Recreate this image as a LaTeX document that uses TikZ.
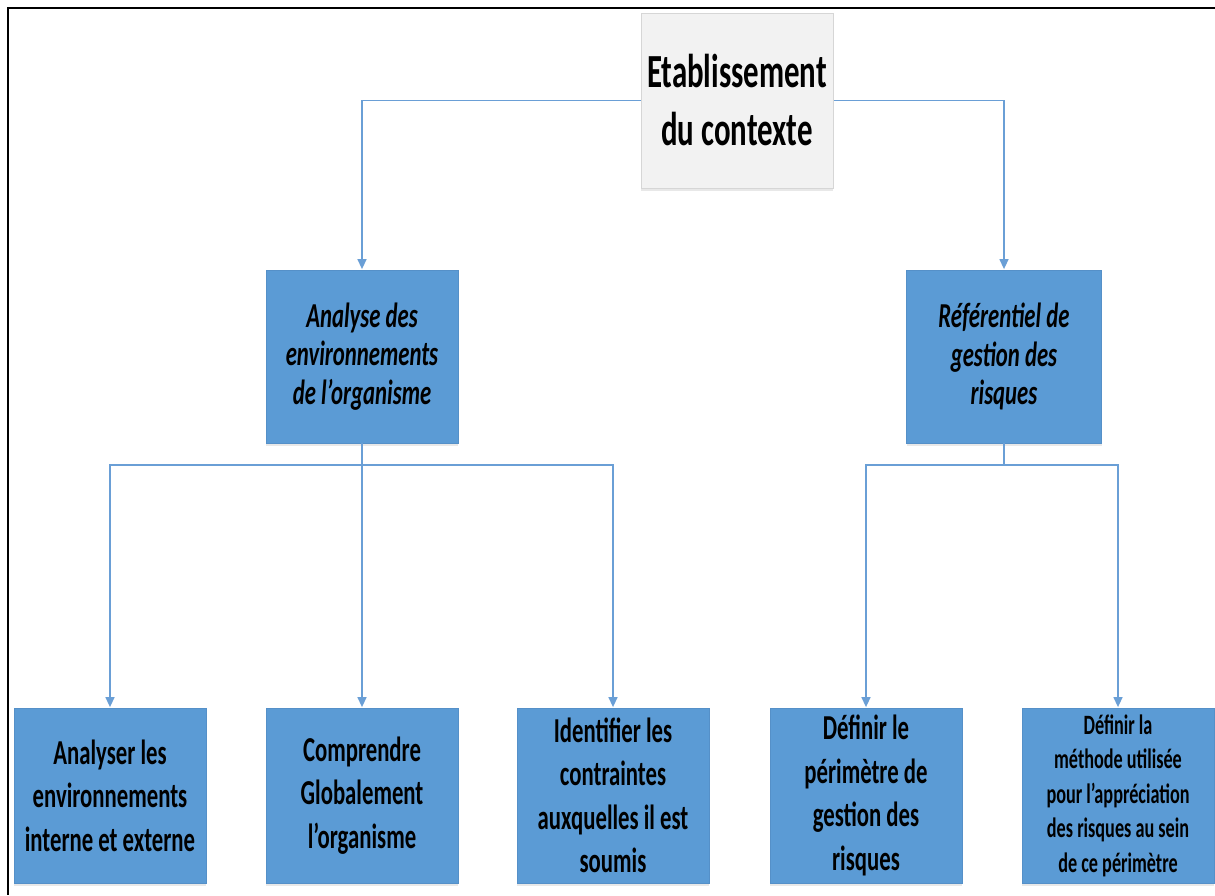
\documentclass[tikz,border=0pt]{standalone}
\usepackage{fontspec}
\setmainfont{Carlito}[FakeStretch=0.65]
\usetikzlibrary{arrows.meta,shadows}
\definecolor{boxblue}{HTML}{5B9BD5}
\definecolor{boxedge}{HTML}{5590C8}
\definecolor{linkblue}{HTML}{6A9FD6}
\definecolor{topfill}{HTML}{F2F2F2}
\definecolor{topedge}{HTML}{D6D6D6}
\tikzset{
  box/.style={rectangle, inner sep=0pt, align=center, text=black,
    drop shadow={opacity=0.18, shadow xshift=0pt, shadow yshift=-3pt}},
  rootbox/.style={box, fill=topfill, draw=topedge, line width=0.8pt,
    minimum width=192pt, minimum height=175pt,
    font=\fontsize{47.5}{58}\selectfont\bfseries},
  midbox/.style={box, fill=boxblue, draw=boxedge, line width=0.8pt,
    minimum height=173pt,
    font=\fontsize{35}{38.5}\selectfont\bfseries\itshape},
  leafbox/.style={box, fill=boxblue, draw=boxedge, line width=0.8pt,
    minimum width=192pt, minimum height=175pt,
    font=\fontsize{35}{43.5}\selectfont\bfseries},
  smallleaf/.style={leafbox, font=\fontsize{28}{34.5}\selectfont\bfseries},
  conn/.style={draw=linkblue, line width=1.4pt},
  arr/.style={conn, -{Triangle[length=10pt,width=9pt]}, shorten >=0.5pt}
}
\begin{document}
\begin{tikzpicture}[x=1pt,y=-1pt]
\useasboundingbox (0,0) rectangle (1215,895);
\fill[white] (0,0) rectangle (1215,895);

% outer frame (top and left edges)
\draw[line width=2.6pt, black] (1215,8) -- (8,8) -- (8,895);

% connectors from the root, drawn first so the root box covers them
\coordinate (rootline) at (737,100.5);
\node[midbox, minimum width=192pt] (ml) at (362,356.5) {Analyse des\\environnements\\de l’organisme};
\node[midbox, minimum width=195pt] (mr) at (1004,356.5) {Référentiel de\\gestion des\\risques};
\draw[arr] (rootline) -| (ml.north);
\draw[arr] (rootline) -| (mr.north);
\node[rootbox] (root) at (737,100.5) {Etablissement\\du contexte};

% leaves
\node[leafbox] (b1) at (110,795.5) {Analyser les\\environnements\\interne et externe};
\node[leafbox] (b2) at (362,795.5) {Comprendre\\Globalement\\l’organisme};
\node[leafbox] (b3) at (613,795.5) {Identifier les\\contraintes\\auxquelles il est\\soumis};
\node[leafbox] (b4) at (866,795.5) {Définir le\\périmètre de\\gestion des\\risques};
\node[smallleaf] (b5) at (1118,795.5) {Définir la\\méthode utilisée\\pour l’appréciation\\des risques au sein\\de ce périmètre};

% left branch
\coordinate (jl) at (362,465);
\draw[conn] (ml.south) -- (jl);
\draw[arr] (jl) -| (b1.north);
\draw[arr] (jl) -- (b2.north);
\draw[arr] (jl) -| (b3.north);

% right branch
\coordinate (jr) at (1004,465);
\draw[conn] (mr.south) -- (jr);
\draw[arr] (jr) -| (b4.north);
\draw[arr] (jr) -| (b5.north);
\end{tikzpicture}
\end{document}
